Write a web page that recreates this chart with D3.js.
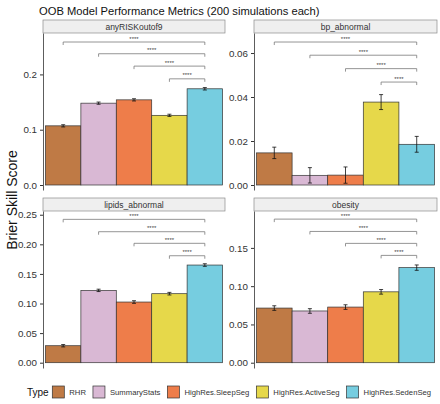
<!DOCTYPE html>
<html><head><meta charset="utf-8">
<script src="https://cdn.jsdelivr.net/npm/d3@7"></script>
<style>body{margin:0;background:#fff;} svg{display:block;font-family:"Liberation Sans",Arial,sans-serif;}</style>
</head><body>
<svg id="c" width="440" height="404"></svg>
<script>
const types = ["RHR","SummaryStats","HighRes.SleepSeg","HighRes.ActiveSeg","HighRes.SedenSeg"];
const colors = ["#BF7A45","#D9B8D4","#EE7D4A","#E6D84A","#76CDE0"];
const panels = ["anyRISKoutof9","bp_abnormal","lipids_abnormal","obesity"];
const means_anyRISK = [0.107,0.148,0.154,0.126,0.174];
const means_bp = [0.0146,0.0044,0.0045,0.0377,0.0185];
const means_lipids = [0.0287,0.1222,0.1025,0.1166,0.1650];
const means_obesity = [0.0714,0.0676,0.0727,0.0926,0.1242];
const err_anyRISK = [0.0020,0.0020,0.0020,0.0020,0.0022];
const err_bp = [0.0026,0.0035,0.0037,0.0034,0.0036];
const err_lipids = [0.0020,0.0020,0.0022,0.0022,0.0022];
const err_obesity = [0.0030,0.0030,0.0030,0.0030,0.0035];
const bracketY_anyRISK = [0.2586,0.2374,0.2150,0.1920];
const bracketY_bp = [0.0650,0.0590,0.0529,0.0468];
const bracketY_lipids = [0.2422,0.2213,0.2017,0.1807];
const bracketY_obesity = [0.1876,0.1715,0.1559,0.1402];
const bracketFrom = [0,1,2,3];
const bracketTo = 4;
const sigLabel = "****";
const yLimits = [[-0.00904,0.2749],[-0.00227,0.0691],[-0.00895,0.2563],[-0.0069,0.1982]];
const ticks_anyRISK = [0.0,0.1,0.2];
const ticks_bp = [0.00,0.02,0.04,0.06];
const ticks_lipids = [0.00,0.05,0.10,0.15,0.20,0.25];
const ticks_obesity = [0.00,0.05,0.10,0.15];
const tickFormats = [".1f",".2f",".2f",".2f"];
const title = "OOB Model Performance Metrics (200 simulations each)";
const yTitle = "Brier Skill Score";
const legendTitle = "Type";

const means = [means_anyRISK,means_bp,means_lipids,means_obesity];
const errs = [err_anyRISK,err_bp,err_lipids,err_obesity];
const brackets = [bracketY_anyRISK,bracketY_bp,bracketY_lipids,bracketY_obesity];
const tickSets = [ticks_anyRISK,ticks_bp,ticks_lipids,ticks_obesity];

const svg = d3.select("#c");
const cols = [[43,225],[254,437]];
const rows = [{strip:20,top:33,bottom:190},{strip:198,top:211,bottom:368}];

svg.append("text").attr("x",39).attr("y",14.5).attr("font-size",11.2).attr("fill","#111").text(title);
svg.append("text").attr("transform","translate(17,200) rotate(-90)").attr("text-anchor","middle")
  .attr("font-size",14).attr("fill","#111").text(yTitle);

panels.forEach((p,i)=>{
  const c = cols[i%2], r = rows[Math.floor(i/2)];
  const g = svg.append("g");
  const x = d3.scaleBand().domain(types).range(c).paddingInner(0).paddingOuter(0.07);
  const y = d3.scaleLinear().domain(yLimits[i]).range([r.bottom,r.top]);
  g.append("rect").attr("x",c[0]).attr("y",r.strip).attr("width",c[1]-c[0]).attr("height",r.top-r.strip)
    .attr("fill","#EFEFEF").attr("stroke","#8C8C8C").attr("stroke-width",0.7);
  g.append("text").attr("x",(c[0]+c[1])/2).attr("y",(r.strip+r.top)/2+3).attr("text-anchor","middle")
    .attr("font-size",8.5).attr("fill","#333").text(p);
  g.selectAll(".bar").data(types).join("rect")
    .attr("x",d=>x(d)).attr("width",x.bandwidth())
    .attr("y",(d,j)=>y(means[i][j])).attr("height",(d,j)=>y(0)-y(means[i][j]))
    .attr("fill",(d,j)=>colors[j]).attr("stroke","#333").attr("stroke-width",0.7);
  types.forEach((t,j)=>{
    const cx = x(t)+x.bandwidth()/2, lo=y(means[i][j]-errs[i][j]), hi=y(means[i][j]+errs[i][j]);
    g.append("line").attr("x1",cx).attr("x2",cx).attr("y1",lo).attr("y2",hi).attr("stroke","#111").attr("stroke-width",0.8);
    [lo,hi].forEach(v=>g.append("line").attr("x1",cx-2).attr("x2",cx+2).attr("y1",v).attr("y2",v).attr("stroke","#111").attr("stroke-width",0.8));
  });
  brackets[i].forEach((by,k)=>{
    const x1 = x(types[bracketFrom[k]])+x.bandwidth()/2, x2 = x(types[bracketTo])+x.bandwidth()/2, yy=y(by);
    g.append("path").attr("d",`M${x1},${yy+3}V${yy}H${x2}V${yy+3}`).attr("fill","none")
      .attr("stroke","#7A7A7A").attr("stroke-width",0.8);
    g.append("text").attr("x",(x1+x2)/2).attr("y",yy-1.5).attr("text-anchor","middle")
      .attr("font-size",6).attr("fill","#444").text(sigLabel);
  });
  const ax = g.append("g").attr("transform",`translate(${c[0]},0)`)
    .call(d3.axisLeft(y).tickValues(tickSets[i]).tickFormat(d3.format(tickFormats[i])).tickSize(3).tickSizeOuter(0));
  ax.select(".domain").attr("stroke","#333").attr("stroke-width",0.8);
  ax.selectAll(".tick line").attr("stroke","#333");
  ax.selectAll(".tick text").attr("font-size",9.8).attr("fill","#333").attr("font-family","Liberation Sans, Arial, sans-serif");
});

const ly = 392;
const lg = svg.append("g");
lg.append("text").attr("x",27).attr("y",ly+3.5).attr("font-size",10).attr("fill","#111").text(legendTitle);
let lx = 52.3;
types.forEach((t,j)=>{
  lg.append("rect").attr("x",lx).attr("y",ly-6).attr("width",12).attr("height",12)
    .attr("fill",colors[j]).attr("stroke","#333").attr("stroke-width",0.7);
  const tx = lg.append("text").attr("x",lx+17).attr("y",ly+3).attr("font-size",7.7).attr("fill","#333").text(t);
  lx = lx+17+tx.node().getComputedTextLength()+7;
});
</script>
</body></html>
